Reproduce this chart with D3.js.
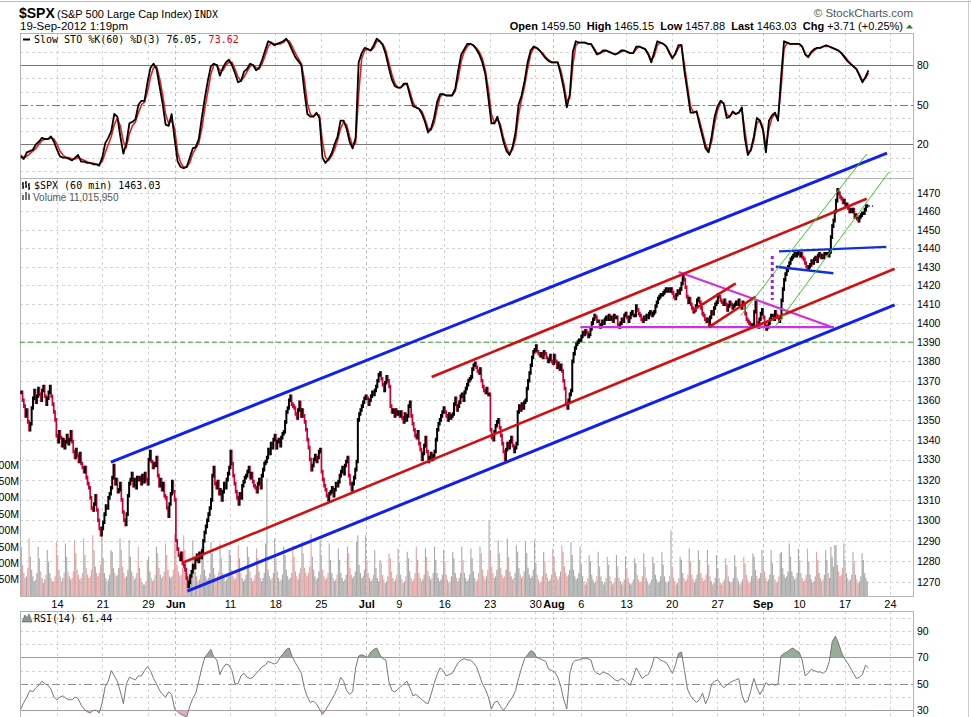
<!DOCTYPE html>
<html>
<head>
<meta charset="utf-8">
<script src="https://cdnjs.cloudflare.com/ajax/libs/d3/7.8.5/d3.min.js"></script>
<style>
  body { margin: 0; background: #fff; }
  svg { display: block; font-family: "Liberation Sans", Arial, sans-serif; }
  .mono { font-family: "DejaVu Sans Mono", monospace; font-size: 10px; }
  .axis text { font-size: 10.5px; fill: #000; font-family: "Liberation Sans", Arial, sans-serif; }
  .axis path, .axis line { display: none; }
</style>
</head>
<body>
<svg id="chart" width="971" height="717"></svg>
<script>
'use strict';

// hourly closes, 8 May -> 19 Sep 2012 1:19pm (3 Jul is a half day: 4 bars)
var closes = [
  1364,1360,1357,1352,1355,1349,1345, 1348,1356,1361,1365,1359,1362,1366,
  1363,1360,1365,1367,1362,1358,1361, 1364,1367,1362,1358,1354,1350,1342,
  // 14 May
  1339,1344,1341,1337,1340,1336,1339, 1342,1338,1340,1344,1339,1334,1331,
  1335,1332,1329,1333,1328,1326,1324, 1326,1321,1318,1316,1311,1306,1305,
  1308,1312,1305,1300,1296,1293,1296,
  // 21 May
  1299,1303,1307,1306,1311,1313,1316, 1321,1327,1318,1320,1314,1315,1318,
  1310,1304,1300,1298,1303,1312,1318, 1320,1323,1317,1320,1316,1321,1320,
  1321,1318,1322,1319,1323,1320,1318,
  // 29 May
  1330,1334,1329,1326,1328,1327,1331, 1322,1317,1320,1315,1318,1312,1311,
  1306,1302,1308,1313,1319,1314,1310, 1290,1286,1283,1281,1284,1279,1278,
  // 4 Jun
  1276,1272,1268,1270,1273,1275,1278, 1277,1281,1283,1280,1284,1282,1285,
  1290,1294,1297,1300,1303,1306,1310, 1322,1326,1318,1316,1319,1313,1315,
  1310,1314,1318,1316,1320,1323,1326,
  // 11 Jun
  1334,1328,1322,1318,1314,1311,1308, 1313,1311,1317,1319,1321,1322,1324,
  1326,1321,1323,1319,1317,1316,1314, 1318,1320,1316,1322,1325,1328,1329,
  1331,1335,1333,1338,1336,1340,1342,
  // 18 Jun
  1336,1339,1340,1337,1341,1343,1344, 1349,1354,1356,1360,1362,1358,1357,
  1356,1353,1351,1355,1359,1352,1355, 1352,1349,1345,1340,1336,1330,1325,
  1327,1330,1332,1329,1331,1334,1335,
  // 25 Jun
  1324,1320,1317,1315,1312,1310,1313, 1314,1316,1312,1315,1318,1317,1319,
  1322,1324,1326,1323,1327,1329,1331, 1322,1318,1315,1318,1321,1325,1329,
  1350,1353,1355,1357,1359,1361,1362,
  // 2 Jul
  1361,1358,1360,1362,1364,1363,1365, 1367,1370,1373,1374,
  1371,1368,1365,1369,1372,1370,1367, 1357,1354,1355,1352,1355,1353,1354,
  // 9 Jul
  1352,1354,1351,1349,1353,1350,1352, 1357,1359,1352,1348,1345,1342,1341,
  1344,1338,1335,1330,1333,1337,1341, 1334,1329,1331,1333,1330,1332,1334,
  1340,1345,1348,1350,1352,1354,1356,
  // 16 Jul
  1354,1352,1350,1353,1351,1352,1353, 1358,1361,1355,1357,1359,1362,1363,
  1360,1364,1366,1368,1370,1371,1372, 1376,1378,1379,1377,1375,1374,1376,
  1370,1367,1365,1364,1366,1363,1363,
  // 23 Jul
  1345,1341,1340,1344,1347,1349,1350, 1346,1342,1338,1334,1330,1335,1338,
  1336,1339,1341,1337,1334,1336,1338, 1354,1357,1355,1358,1356,1359,1360,
  1366,1370,1374,1378,1382,1385,1386,
  // 30 Jul
  1388,1385,1384,1383,1384,1382,1385, 1384,1382,1380,1381,1383,1380,1379,
  1383,1380,1377,1379,1376,1378,1375, 1370,1366,1358,1356,1360,1363,1365,
  1380,1384,1387,1389,1390,1391,1391,
  // 6 Aug
  1393,1395,1394,1396,1395,1393,1394, 1397,1400,1402,1404,1403,1401,1401,
  1398,1399,1401,1400,1402,1403,1402, 1404,1402,1403,1401,1404,1403,1403,
  1399,1398,1400,1402,1401,1404,1405,
  // 13 Aug
  1403,1401,1403,1405,1406,1404,1404, 1409,1407,1405,1404,1402,1401,1403,
  1402,1404,1403,1405,1406,1404,1405, 1406,1409,1411,1413,1414,1415,1415,
  1416,1417,1418,1417,1418,1417,1418,
  // 20 Aug
  1416,1414,1413,1415,1417,1416,1418, 1421,1425,1423,1419,1414,1411,1413,
  1410,1408,1406,1407,1409,1412,1413, 1411,1408,1405,1404,1402,1401,1402,
  1399,1403,1406,1405,1408,1410,1411,
  // 27 Aug
  1415,1414,1412,1411,1410,1412,1410, 1407,1409,1411,1410,1408,1409,1410,
  1411,1410,1412,1409,1408,1411,1410, 1405,1402,1401,1400,1398,1399,1399,
  1406,1411,1400,1398,1402,1405,1407,
  // 4 Sep
  1403,1399,1397,1398,1400,1402,1404, 1404,1402,1406,1404,1403,1401,1403,
  1412,1418,1423,1426,1428,1430,1432, 1434,1435,1436,1437,1436,1437,1438,
  // 10 Sep
  1436,1437,1435,1434,1432,1430,1429, 1430,1431,1433,1432,1434,1435,1433,
  1436,1437,1435,1436,1435,1437,1437, 1437,1436,1438,1446,1452,1455,1460,
  1466,1472,1470,1468,1467,1465,1466,
  // 17 Sep
  1463,1464,1462,1460,1461,1460,1461, 1457,1458,1456,1455,1457,1458,1459,
  1459,1461,1463,1463.03
];

// volume per hourly bar, millions
var volumes = [
  150,95,70,55,60,85,175, 120,80,60,45,50,70,150, 115,75,55,40,50,65,140, 105,70,55,45,45,60,165,
  125,80,60,45,55,70,160, 120,75,60,50,55,75,170, 130,80,65,50,55,70,175, 125,85,65,55,60,80,185,
  140,90,70,60,70,95,215,
  115,70,55,45,50,65,140, 135,85,70,60,65,85,175, 140,90,70,55,60,80,170, 120,75,60,50,55,70,150,
  85,55,40,35,35,45,110,
  120,75,55,45,50,65,150, 130,85,65,55,60,75,160, 125,80,60,55,60,80,190, 150,95,75,60,65,85,185,
  140,90,70,55,60,80,170, 120,75,60,45,50,65,150, 125,80,60,50,55,70,165, 130,85,65,55,60,75,160,
  115,70,55,45,50,60,140,
  125,80,60,50,55,70,155, 115,70,55,45,50,65,150, 120,75,55,45,50,65,145, 115,75,55,45,55,70,160,
  360,80,60,50,55,70,175,
  115,75,55,45,50,65,150, 125,80,60,50,55,70,155, 120,75,60,50,70,85,165, 130,85,70,60,70,90,190,
  120,80,60,50,55,75,170,
  125,80,60,50,55,70,160, 110,70,55,45,50,65,145, 110,70,55,45,50,65,150, 130,85,65,55,60,75,165,
  185,95,70,55,60,80,185,
  110,70,55,45,50,65,140, 85,55,45,110, 100,65,50,40,45,60,130, 115,75,55,45,50,65,145,
  100,65,50,40,45,60,135, 115,75,55,45,50,70,150, 110,70,55,45,50,65,145, 120,75,60,50,55,70,150,
  110,70,55,45,50,65,140,
  105,65,50,40,45,60,135, 115,70,55,45,55,70,150, 110,70,55,45,50,65,145, 115,75,55,45,50,70,150,
  130,80,60,50,60,80,230,
  140,90,70,55,60,80,170, 130,85,65,55,60,80,175, 120,75,60,50,55,70,155, 135,85,65,55,60,75,165,
  130,85,65,55,60,80,170,
  100,65,50,40,45,60,135, 105,70,55,45,50,65,145, 120,75,60,50,60,75,155, 135,90,70,60,65,80,165,
  125,80,60,50,55,70,150,
  95,60,45,35,40,55,125, 105,65,50,40,45,60,135, 90,60,45,35,40,55,120, 95,60,45,35,40,55,125,
  90,55,45,35,40,50,120,
  85,55,40,35,40,50,115, 100,65,50,40,45,60,130, 90,55,45,35,40,50,120, 100,65,50,40,45,60,135,
  95,60,45,40,45,60,200,
  90,55,45,35,40,55,120, 110,70,55,45,50,65,145, 105,65,50,40,50,65,140, 110,70,55,45,50,65,140,
  95,60,45,35,40,55,125,
  85,55,40,35,40,50,115, 95,60,45,40,45,55,125, 90,55,45,35,40,50,120, 100,65,50,40,45,60,130,
  120,80,60,50,55,70,140,
  115,75,55,45,50,65,140, 100,65,50,40,45,60,130, 135,85,65,55,60,75,160, 120,75,60,50,55,70,145,
  110,70,55,45,50,65,145, 105,65,50,40,45,60,135, 110,70,55,45,50,65,140, 110,70,55,150,120,90,155,
  155,95,75,60,65,85,160,
  110,70,55,45,50,65,135, 105,65,50,40,45,60,130, 110,70,55,45
];
var firstBar = -28; // bar index of the first close; 14 May opening bar = 0

// x axis: bar index of the first bar of each labelled day
var tickBars = [0, 35, 70, 91, 133, 168, 203, 238, 263, 298, 333, 368, 382, 403, 438, 473, 508, 543, 571, 606, 641];
var tickLabels = ['14', '21', '29', 'Jun', '11', '18', '25', 'Jul', '9', '16', '23', '30', 'Aug', '6', '13', '20', '27', 'Sep', '10', '17', '24'];
var monthLabels = ['Jun', 'Jul', 'Aug', 'Sep'];

var priceTicks = [1270, 1280, 1290, 1300, 1310, 1320, 1330, 1340, 1350, 1360, 1370, 1380, 1390, 1400, 1410, 1420, 1430, 1440, 1450, 1460, 1470];
var volTicks = [50, 100, 150, 200, 250, 300, 350, 400];
var stoTicks = [20, 50, 80];
var rsiTicks = [30, 50, 70, 90];

// Slow STO and RSI, three readings per trading day
var stoK = [
  11,9,14, 15,16,20, 22,25,24, 24,26,22, 16,11,10, 10,9,8, 10,12,7, 7,6,6, 5,5,4,
  10,21,25, 30,43,41, 26,13,21, 36,37,39, 50,53,53, 67,78,81, 77,64,51, 35,34,43, 24,7,3,
  2,3,10, 17,18,24, 40,55,68, 79,81,80, 72,78,82, 84,80,74, 67,68,75, 77,81,80, 76,78,84,
  91,98,97, 95,96,97, 98,100,96, 91,86,83, 80,60,43, 41,41,44, 40,10,6, 9,13,20, 26,38,38,
  32,22,17, 25,82,89, 93,92,91, 95,100,98, 95,88,78, 69,64,63, 63,66,66, 57,49,48, 47,43,37,
  29,32,40, 52,58,58, 57,57,57, 62,76,88, 92,96,96, 95,92,88, 82,73,55, 36,36,41, 32,22,15,
  12,18,29, 50,57,68, 82,91,94, 93,91,88, 85,83,82, 82,82,73, 62,48,58, 90,98,97, 97,97,96,
  96,92,88, 89,91,91, 90,89,88, 89,91,91, 90,89,89, 94,94,93, 92,88,82, 90,98,97, 96,94,89,
  85,89,95, 95,75,60, 44,44,45, 35,26,17, 14,26,41, 49,53,51, 40,41,45, 43,44,48, 25,12,16,
  26,40,38, 31,14,38, 42,44,38, 70,98,97, 96,96,96, 96,94,88, 86,90,92, 93,93,94, 95,94,93,
  92,91,89, 86,83,81, 79,77,72, 67,71,76
];
var stoD = [
  12,10,11, 13,15,17, 20,23,24, 24,25,24, 20,15,12, 10,10,9, 9,10,9, 8,7,6, 6,5,5,
  7,14,20, 26,35,40, 34,22,18, 28,34,37, 44,50,52, 60,71,78, 79,70,58, 43,36,38, 32,14,6,
  3,3,6, 13,17,21, 32,47,60, 73,80,80, 76,76,80, 82,82,77, 71,68,71, 75,79,80, 78,77,81,
  87,94,97, 96,96,96, 97,99,98, 94,89,85, 81,69,51, 43,41,43, 42,22,10, 8,11,16, 23,32,37,
  35,26,19, 21,58,85, 91,92,91, 93,98,98, 96,91,82, 73,66,63, 63,65,66, 60,52,48, 47,45,39,
  32,31,36, 47,56,58, 57,57,57, 60,70,83, 90,94,96, 95,93,90, 85,76,62, 43,36,39, 35,25,18,
  13,16,24, 42,54,64, 77,88,93, 93,91,89, 86,84,82, 82,82,76, 66,53,55, 80,95,97, 97,97,96,
  96,93,89, 89,90,91, 90,89,88, 89,90,91, 90,89,89, 92,94,93, 92,89,84, 87,95,97, 96,94,90,
  86,88,93, 95,80,64, 49,44,45, 38,29,20, 15,22,36, 46,52,51, 43,41,44, 43,44,47, 31,15,15,
  23,36,38, 33,18,32, 40,43,39, 62,92,97, 96,96,96, 96,94,89, 86,89,91, 93,93,94, 94,94,93,
  92,91,89, 87,84,81, 79,77,73, 68,70,74
];
var rsi = [
  31,36,40, 45,44,47, 49,52,50, 49,46,40, 38,40,41, 39,38,38, 40,39,34, 31,29,28, 30,30,28,
  36,48,52, 60,56,52, 44,35,50, 55,54,53, 56,56,60, 63,60,54, 50,45,42, 40,44,42, 31,29,27,
  26,25,33, 39,43,52, 62,70,73, 76,70,68, 57,62,65, 64,60,50, 50,56,58, 55,54,55, 58,60,63,
  64,67,66, 65,66,70, 73,76,77, 70,66,62, 58,47,40, 36,37,35, 31,27,30, 34,38,42, 47,55,52,
  45,42,44, 62,71,72, 71,70,74, 76,77,72, 69,68,52, 45,44,46, 48,50,52, 47,41,42, 40,38,36,
  35,42,50, 57,62,60, 56,57,58, 62,66,68, 69,68,68, 66,63,57, 50,46,40, 31,36,37, 33,30,33,
  37,40,45, 54,62,69, 72,75,74, 70,69,68, 67,61,60, 59,55,48, 38,31,58, 66,68,68, 69,69,69,
  68,60,58, 57,59,58, 57,55,53, 52,54,53, 51,49,55, 62,58,54, 56,57,62, 70,70,68, 67,66,62,
  58,64,73, 74,60,46, 41,38,36, 38,43,35, 40,50,52, 53,50,47, 49,51,52, 53,54,42, 36,37,45,
  54,47,42, 46,51,49, 50,49,50, 71,73,74, 76,77,75, 74,68,56, 58,61,60, 59,59,58, 60,67,82,
  86,81,74, 69,66,62, 58,54,55, 57,64,62
];
var sampleStart = -27.86, sampleStep = 2.3214; // bar index of the first reading, bars between readings

// lines drawn on the chart: [bar, price, bar, price]
var blueLines = [[41.5, 1328.7, 638.7, 1492.4], [100.3, 1265.8, 644.6, 1409.6]];
var blueFlag = [[555.6, 1438.3, 638.2, 1440.7], [553.1, 1430.0, 597.4, 1426.5]];
var redLines = [[96.7, 1279.4, 644.6, 1428.9], [288.3, 1371.9, 623.1, 1467.0],
                [488.9, 1406.6, 522.3, 1421.1], [501.7, 1397.9, 537.7, 1414.1]];
var magentaLines = [[402.7, 1397.9, 597.9, 1397.9], [478.4, 1427.2, 596.6, 1397.8]];
var magentaDotted = [[550.4, 1435.8, 550.4, 1412.2]];
var greenLines = [[526.1, 1403.9, 623.1, 1491.9], [552.3, 1397.9, 640.2, 1481.8]];
var levelPrice = 1390;

// ------------------------------------------------------------------
var svg = d3.select('#chart');
var L = 20, R = 913;
var stoTop = 33, mainTop = 178, mainBot = 596, rsiTop = 611, rsiBot = 717;

var x = d3.scaleLinear().domain([-28.47, 658.7]).range([L, R]);
var yP = d3.scaleLog().domain([1263.5, 1478.5]).range([mainBot, mainTop]);
var yV = d3.scaleLinear().domain([0, 50]).range([mainBot, mainBot - 16.4]);
var yS = d3.scaleLinear().domain([0, 100]).range([170.9, 38.6]);
var yR = d3.scaleLinear().domain([0, 100]).range([750.1, 617.6]);
var sx = function (i) { return x(sampleStart + i * sampleStep); };

// outer frame
svg.append('line').attr('x1', 0).attr('x2', 971).attr('y1', 1.5).attr('y2', 1.5)
  .attr('stroke', '#bbb');
svg.append('line').attr('x1', 968.5).attr('x2', 968.5).attr('y1', 0).attr('y2', 717)
  .attr('stroke', '#ccc');

// grids
var grid = svg.append('g');
function hGrid(vals, scale, dash, col) {
  grid.selectAll(null).data(vals).enter().append('line')
    .attr('x1', L).attr('x2', R)
    .attr('y1', function (d) { return Math.round(scale(d)) + 0.5; })
    .attr('y2', function (d) { return Math.round(scale(d)) + 0.5; })
    .attr('stroke', col).attr('stroke-dasharray', dash);
}
[[stoTop, mainTop], [mainTop, mainBot], [rsiTop, rsiBot]].forEach(function (p) {
  grid.selectAll(null).data(tickBars).enter().append('line')
    .attr('x1', function (d) { return Math.round(x(d)) + 0.5; })
    .attr('x2', function (d) { return Math.round(x(d)) + 0.5; })
    .attr('y1', p[0]).attr('y2', p[1])
    .attr('stroke', function (d, i) { return monthLabels.indexOf(tickLabels[i]) >= 0 ? '#bdbdbd' : '#d4d4d4'; })
    .attr('stroke-dasharray', '3,3');
});
hGrid([0, 10, 30, 40, 60, 70, 90], yS, '3,3', '#d4d4d4');
hGrid(priceTicks, yP, '3,3', '#d4d4d4');
hGrid([40, 60, 80, 90, 100], yR, '3,3', '#d4d4d4');
hGrid([20, 80], yS, null, '#777');
hGrid([50], yS, '8,3,2,3', '#777');
hGrid([30, 70], yR, null, '#999');
hGrid([50], yR, '8,3,2,3', '#999');

// panel borders
[[stoTop, mainTop], [mainTop, mainBot], [rsiTop, rsiBot + 5]].forEach(function (p) {
  svg.append('rect').attr('x', L + 0.5).attr('y', p[0] + 0.5)
    .attr('width', R - L).attr('height', p[1] - p[0])
    .attr('fill', 'none').attr('stroke', '#b4b4b4');
});

// ---- Slow STO ----
var stoLine = function (arr) {
  return d3.line().x(function (d, i) { return sx(i); }).y(function (d) { return yS(d); })(arr);
};
svg.append('path').attr('d', stoLine(stoD)).attr('fill', 'none')
  .attr('stroke', '#ee1c1c').attr('stroke-width', 1.6);
svg.append('path').attr('d', stoLine(stoK)).attr('fill', 'none')
  .attr('stroke', '#000').attr('stroke-width', 1.8).attr('stroke-linejoin', 'round');

// ---- volume ----
var volUp = '', volDn = '';
volumes.forEach(function (v, k) {
  var c = closes[k], o = k ? closes[k - 1] : c;
  var x0 = x(firstBar + k) + 0.1, w = x(1) - x(0) - 0.2;
  var seg = 'M' + x0.toFixed(2) + ',' + mainBot + 'V' + yV(v).toFixed(2) +
            'h' + w.toFixed(2) + 'V' + mainBot + 'Z';
  if (c >= o) volUp += seg; else volDn += seg;
});
svg.append('path').attr('d', volDn).attr('fill', '#e4a3a3');
svg.append('path').attr('d', volUp).attr('fill', '#a9a9a9');

// ---- price bars (range from previous close to close, plus a small wick) ----
var up = '', dn = '';
closes.forEach(function (c, k) {
  var o = k ? closes[k - 1] : c;
  var xx = x(firstBar + k + 0.5);
  var y1 = yP(Math.max(o, c)) - 1.8, y2 = yP(Math.min(o, c)) + 1.8;
  var seg = 'M' + xx.toFixed(2) + ',' + y1.toFixed(2) + 'V' + y2.toFixed(2);
  if (c >= o) up += seg; else dn += seg;
});
svg.append('path').attr('d', dn).attr('stroke', '#cc0033').attr('stroke-width', 1.7);
svg.append('path').attr('d', up).attr('stroke', '#000').attr('stroke-width', 2);

// ---- drawn lines ----
svg.append('line').attr('x1', L).attr('x2', R)
  .attr('y1', yP(levelPrice)).attr('y2', yP(levelPrice))
  .attr('stroke', '#2ea02e').attr('stroke-dasharray', '5,3');

function seg(list, col, w, dash) {
  svg.selectAll(null).data(list).enter().append('line')
    .attr('x1', function (d) { return x(d[0]); }).attr('y1', function (d) { return yP(d[1]); })
    .attr('x2', function (d) { return x(d[2]); }).attr('y2', function (d) { return yP(d[3]); })
    .attr('stroke', col).attr('stroke-width', w).attr('stroke-dasharray', dash || null);
}
seg(magentaLines, '#cc33dd', 2.2);
seg(redLines, '#d01010', 2.6);
seg(blueLines, '#1020f0', 3);
seg(blueFlag, '#1030e0', 2.4);
seg(greenLines, '#33cc22', 1);
seg(magentaDotted, '#a020e0', 3, '3,3');
svg.append('line').attr('x1', x(624)).attr('x2', x(628))
  .attr('y1', yP(closes[closes.length - 1])).attr('y2', yP(closes[closes.length - 1]))
  .attr('stroke', '#1030e0').attr('stroke-width', 1.5).attr('stroke-dasharray', '2,2');

// ---- RSI ----
var defs = svg.append('defs');
defs.append('clipPath').attr('id', 'above70').append('rect')
  .attr('x', L).attr('y', rsiTop).attr('width', R - L).attr('height', yR(70) - rsiTop);
defs.append('clipPath').attr('id', 'below30').append('rect')
  .attr('x', L).attr('y', yR(30)).attr('width', R - L).attr('height', 60);
var rsiArea = function (base) {
  return d3.area().x(function (d, i) { return sx(i); })
    .y0(yR(base)).y1(function (d) { return yR(d); })(rsi);
};
svg.append('path').attr('d', rsiArea(70)).attr('fill', '#98ad98').attr('clip-path', 'url(#above70)');
svg.append('path').attr('d', rsiArea(30)).attr('fill', '#e3a9bd').attr('clip-path', 'url(#below30)');
svg.append('path')
  .attr('d', d3.line().x(function (d, i) { return sx(i); }).y(function (d) { return yR(d); })(rsi))
  .attr('fill', 'none').attr('stroke', '#777').attr('stroke-width', 1);

// ---- axes ----
svg.append('g').attr('class', 'axis').attr('transform', 'translate(' + R + ',0)')
  .call(d3.axisRight(yP).tickValues(priceTicks).tickSize(0).tickPadding(4).tickFormat(d3.format('d')));
svg.append('g').attr('class', 'axis').attr('transform', 'translate(' + R + ',0)')
  .call(d3.axisRight(yS).tickValues(stoTicks).tickSize(0).tickPadding(4));
svg.append('g').attr('class', 'axis').attr('transform', 'translate(' + R + ',0)')
  .call(d3.axisRight(yR).tickValues(rsiTicks).tickSize(0).tickPadding(4));
// volume scale sits left of the plot; the window crops its first digit as in the original
svg.append('g').attr('class', 'axis').attr('transform', 'translate(' + L + ',0)')
  .call(d3.axisLeft(yV).tickValues(volTicks).tickSize(0).tickPadding(1)
    .tickFormat(function (d) { return d + 'M'; }));
var xa = svg.append('g').attr('class', 'axis').attr('transform', 'translate(0,' + mainBot + ')')
  .call(d3.axisBottom(x).tickValues(tickBars).tickSize(0).tickPadding(4.5)
    .tickFormat(function (d, i) { return tickLabels[i]; }));
xa.selectAll('text').style('font-size', '11px')
  .style('font-weight', function (d, i) { return monthLabels.indexOf(tickLabels[i]) >= 0 ? 'bold' : null; });

// ---- titles and legends ----
svg.append('text').attr('x', 19).attr('y', 17.5).style('font-size', '14px').style('font-weight', 'bold').text('$SPX');
svg.append('text').attr('x', 57).attr('y', 17.5).style('font-size', '11px').text('(S&P 500 Large Cap Index)');
svg.append('text').attr('class', 'mono').attr('x', 194).attr('y', 17.5).text('INDX');
svg.append('text').attr('x', 20).attr('y', 29.5).style('font-size', '11.5px').text('19-Sep-2012 1:19pm');
svg.append('text').attr('x', 913).attr('y', 17).attr('text-anchor', 'end')
  .style('font-size', '11.5px').style('fill', '#555').text('\u00a9 StockCharts.com');

var ohlc = svg.append('text').attr('x', 903).attr('y', 29.5).attr('text-anchor', 'end')
  .attr('xml:space', 'preserve').style('font-size', '11px');
[['Open', ' 1459.50  '], ['High', ' 1465.15  '], ['Low', ' 1457.88  '], ['Last', ' 1463.03  '], ['Chg', ' +3.71 (+0.25%)']]
  .forEach(function (p) {
    ohlc.append('tspan').style('font-weight', 'bold').text(p[0]);
    ohlc.append('tspan').text(p[1]);
  });
svg.append('path').attr('d', 'M906,28.5L909.5,24.5L913,28.5Z').attr('fill', '#2e7d32');

// STO legend
svg.append('line').attr('x1', 23).attr('x2', 30).attr('y1', 39.5).attr('y2', 39.5)
  .attr('stroke', '#000').attr('stroke-width', 2);
var sl = svg.append('text').attr('class', 'mono').attr('x', 34).attr('y', 43);
sl.append('tspan').text('Slow STO %K(60) %D(3) 76.05, ');
sl.append('tspan').style('fill', '#e00').text('73.62');

// price legend
var icon = svg.append('g').attr('stroke', '#000').attr('stroke-width', 1.3);
[[23, 182, 189], [26, 181, 188], [29, 183, 190]].forEach(function (b) {
  icon.append('line').attr('x1', b[0]).attr('x2', b[0]).attr('y1', b[1]).attr('y2', b[2]);
  icon.append('line').attr('x1', b[0] - 1).attr('x2', b[0]).attr('y1', b[1] + 2).attr('y2', b[1] + 2);
  icon.append('line').attr('x1', b[0]).attr('x2', b[0] + 1).attr('y1', b[2] - 2).attr('y2', b[2] - 2);
});
svg.append('text').attr('class', 'mono').attr('x', 34).attr('y', 189).text('$SPX (60 min) 1463.03');
[[22, 195], [25, 192], [28, 194]].forEach(function (b) {
  svg.append('rect').attr('x', b[0]).attr('y', b[1]).attr('width', 2).attr('height', 200 - b[1]).attr('fill', '#777');
});
svg.append('text').attr('x', 33).attr('y', 200.5).style('font-size', '10px').style('fill', '#555').text('Volume 11,015,950');

// RSI legend
svg.append('path').attr('d', 'M22,622L25,615L27,618L29,614L32,622Z').attr('fill', '#8a9a8a').attr('stroke', '#555').attr('stroke-width', 0.6);
svg.append('text').attr('class', 'mono').attr('x', 34).attr('y', 622).text('RSI(14) 61.44');
</script>
</body>
</html>
